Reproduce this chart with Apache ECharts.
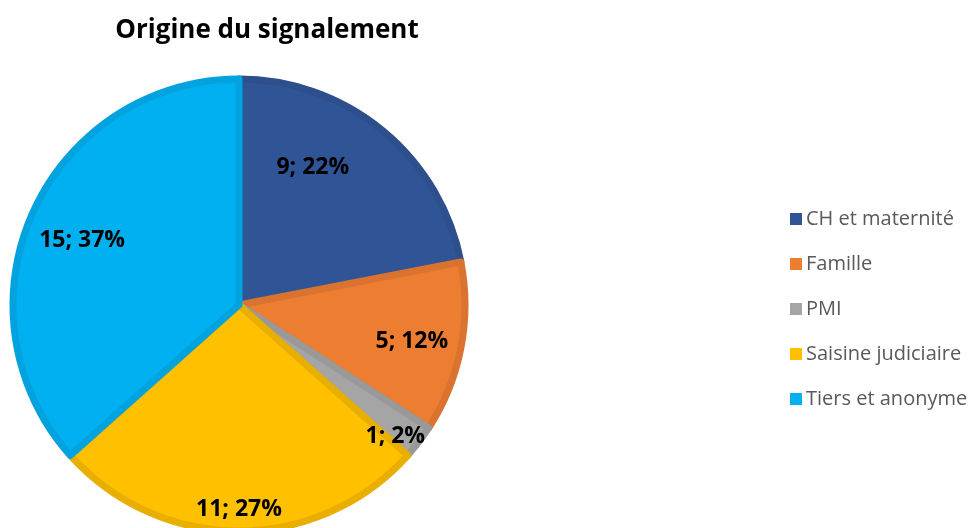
<!DOCTYPE html>
<html><head><meta charset="utf-8">
<script src="https://cdn.jsdelivr.net/npm/echarts@6/dist/echarts.min.js"></script>
<style>html,body{margin:0;padding:0;background:#fff}#c{width:977px;height:528px}</style>
</head><body><div id="c"></div>
<script>
const titleText = "Origine du signalement";
const categories = ["CH et maternité", "Famille", "PMI", "Saisine judiciaire", "Tiers et anonyme"];
const values = [9, 5, 1, 11, 15];
const percents = ["22%", "12%", "2%", "27%", "37%"];
const colors = ["#2F5597", "#ED7D31", "#A5A5A5", "#FFC000", "#00B0F0"];
const borderColors = ["#2D4F8C", "#DA7330", "#999999", "#E8AE00", "#00A3DE"];
const labelOffsets = [[0, -48], [59, 14], [64, 61], [0, 88], [-51, -17]];

const chart = echarts.init(document.getElementById('c'));
chart.setOption({
  animation: false,
  title: {
    text: titleText, left: 262, top: 13, textAlign: 'center',
    textStyle: { fontFamily: 'Open Sans', fontWeight: 'bold', fontSize: 26, color: '#000' }
  },
  legend: {
    orient: 'vertical', left: 785, top: 204, itemWidth: 12, itemHeight: 12, itemGap: 25,
    icon: 'rect', itemStyle: { borderWidth: 0 },
    textStyle: { fontFamily: 'Open Sans', fontSize: 20, color: '#595959', lineHeight: 20, padding: [0, 0, 0, -1] },
    data: categories
  },
  series: [{
    type: 'pie', center: [239, 305], radius: 226, startAngle: 90, clockwise: true,
    label: {
      show: true, position: 'inside', fontFamily: 'Open Sans', fontWeight: 'bold', fontSize: 23, color: '#000',
      formatter: p => values[p.dataIndex] + '; ' + percents[p.dataIndex]
    },
    labelLine: { show: false },
    data: categories.map((c, i) => ({
      name: c, value: values[i],
      itemStyle: { color: colors[i], borderColor: borderColors[i], borderWidth: 7 },
      label: { offset: labelOffsets[i] }
    }))
  }]
});
</script></body></html>
